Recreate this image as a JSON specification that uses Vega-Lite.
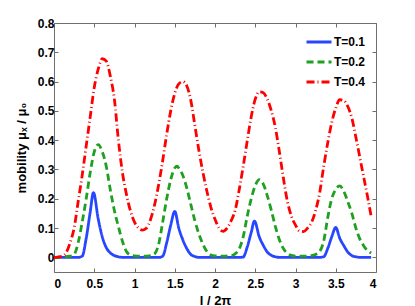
{
  "$schema": "https://vega.github.io/schema/vega-lite/v6.json",
  "width": 322,
  "height": 249,
  "autosize": "none",
  "padding": {"left": 54, "top": 23, "right": 39, "bottom": 34},
  "config": {
    "font": "Liberation Sans",
    "view": {"stroke": "#6e6e6e", "strokeWidth": 1},
    "axis": {
      "grid": false,
      "domain": false,
      "tickColor": "#6e6e6e",
      "tickSize": -4,
      "labelFont": "Liberation Sans",
      "labelFontWeight": "bold",
      "labelFontSize": 12,
      "labelColor": "#000000",
      "titleFont": "Liberation Sans",
      "titleFontWeight": "bold",
      "titleFontSize": 13,
      "titleColor": "#000000"
    },
    "legend": {
      "labelFont": "Liberation Sans",
      "labelFontWeight": "bold",
      "labelFontSize": 12,
      "labelColor": "#000000"
    }
  },
  "data": {
    "values": [
      {"x": 0, "y": 0, "T": "T=0.1"},
      {"x": 0.3, "y": 0, "T": "T=0.1"},
      {"x": 0.35, "y": 0.004, "T": "T=0.1"},
      {"x": 0.4, "y": 0.065, "T": "T=0.1"},
      {"x": 0.45, "y": 0.155, "T": "T=0.1"},
      {"x": 0.49, "y": 0.221, "T": "T=0.1"},
      {"x": 0.55, "y": 0.13, "T": "T=0.1"},
      {"x": 0.6, "y": 0.07, "T": "T=0.1"},
      {"x": 0.65, "y": 0.033, "T": "T=0.1"},
      {"x": 0.7, "y": 0.015, "T": "T=0.1"},
      {"x": 0.75, "y": 0.006, "T": "T=0.1"},
      {"x": 0.8, "y": 0.002, "T": "T=0.1"},
      {"x": 0.85, "y": 0, "T": "T=0.1"},
      {"x": 1.3, "y": 0, "T": "T=0.1"},
      {"x": 1.35, "y": 0.004, "T": "T=0.1"},
      {"x": 1.4, "y": 0.05, "T": "T=0.1"},
      {"x": 1.45, "y": 0.11, "T": "T=0.1"},
      {"x": 1.5, "y": 0.157, "T": "T=0.1"},
      {"x": 1.55, "y": 0.1, "T": "T=0.1"},
      {"x": 1.6, "y": 0.06, "T": "T=0.1"},
      {"x": 1.65, "y": 0.03, "T": "T=0.1"},
      {"x": 1.7, "y": 0.01, "T": "T=0.1"},
      {"x": 1.75, "y": 0.003, "T": "T=0.1"},
      {"x": 1.8, "y": 0, "T": "T=0.1"},
      {"x": 2.3, "y": 0, "T": "T=0.1"},
      {"x": 2.35, "y": 0.001, "T": "T=0.1"},
      {"x": 2.4, "y": 0.035, "T": "T=0.1"},
      {"x": 2.45, "y": 0.085, "T": "T=0.1"},
      {"x": 2.49, "y": 0.124, "T": "T=0.1"},
      {"x": 2.55, "y": 0.07, "T": "T=0.1"},
      {"x": 2.6, "y": 0.041, "T": "T=0.1"},
      {"x": 2.65, "y": 0.018, "T": "T=0.1"},
      {"x": 2.7, "y": 0.007, "T": "T=0.1"},
      {"x": 2.75, "y": 0.002, "T": "T=0.1"},
      {"x": 2.8, "y": 0, "T": "T=0.1"},
      {"x": 3.3, "y": 0, "T": "T=0.1"},
      {"x": 3.35, "y": 0.002, "T": "T=0.1"},
      {"x": 3.4, "y": 0.03, "T": "T=0.1"},
      {"x": 3.45, "y": 0.07, "T": "T=0.1"},
      {"x": 3.5, "y": 0.102, "T": "T=0.1"},
      {"x": 3.55, "y": 0.065, "T": "T=0.1"},
      {"x": 3.6, "y": 0.04, "T": "T=0.1"},
      {"x": 3.65, "y": 0.018, "T": "T=0.1"},
      {"x": 3.7, "y": 0.006, "T": "T=0.1"},
      {"x": 3.75, "y": 0.002, "T": "T=0.1"},
      {"x": 3.8, "y": 0, "T": "T=0.1"},
      {"x": 3.94, "y": 0, "T": "T=0.1"},

      {"x": 0, "y": 0, "T": "T=0.2"},
      {"x": 0.1, "y": 0.001, "T": "T=0.2"},
      {"x": 0.2, "y": 0.004, "T": "T=0.2"},
      {"x": 0.25, "y": 0.01, "T": "T=0.2"},
      {"x": 0.3, "y": 0.05, "T": "T=0.2"},
      {"x": 0.35, "y": 0.12, "T": "T=0.2"},
      {"x": 0.4, "y": 0.2, "T": "T=0.2"},
      {"x": 0.45, "y": 0.29, "T": "T=0.2"},
      {"x": 0.5, "y": 0.36, "T": "T=0.2"},
      {"x": 0.55, "y": 0.385, "T": "T=0.2"},
      {"x": 0.6, "y": 0.36, "T": "T=0.2"},
      {"x": 0.65, "y": 0.31, "T": "T=0.2"},
      {"x": 0.7, "y": 0.23, "T": "T=0.2"},
      {"x": 0.75, "y": 0.16, "T": "T=0.2"},
      {"x": 0.8, "y": 0.105, "T": "T=0.2"},
      {"x": 0.85, "y": 0.055, "T": "T=0.2"},
      {"x": 0.9, "y": 0.02, "T": "T=0.2"},
      {"x": 0.95, "y": 0.008, "T": "T=0.2"},
      {"x": 1.0, "y": 0.005, "T": "T=0.2"},
      {"x": 1.1, "y": 0.004, "T": "T=0.2"},
      {"x": 1.2, "y": 0.006, "T": "T=0.2"},
      {"x": 1.25, "y": 0.012, "T": "T=0.2"},
      {"x": 1.3, "y": 0.045, "T": "T=0.2"},
      {"x": 1.35, "y": 0.12, "T": "T=0.2"},
      {"x": 1.4, "y": 0.2, "T": "T=0.2"},
      {"x": 1.45, "y": 0.265, "T": "T=0.2"},
      {"x": 1.5, "y": 0.305, "T": "T=0.2"},
      {"x": 1.53, "y": 0.311, "T": "T=0.2"},
      {"x": 1.55, "y": 0.305, "T": "T=0.2"},
      {"x": 1.6, "y": 0.28, "T": "T=0.2"},
      {"x": 1.65, "y": 0.236, "T": "T=0.2"},
      {"x": 1.7, "y": 0.18, "T": "T=0.2"},
      {"x": 1.75, "y": 0.125, "T": "T=0.2"},
      {"x": 1.8, "y": 0.08, "T": "T=0.2"},
      {"x": 1.85, "y": 0.045, "T": "T=0.2"},
      {"x": 1.9, "y": 0.02, "T": "T=0.2"},
      {"x": 1.95, "y": 0.008, "T": "T=0.2"},
      {"x": 2.0, "y": 0.005, "T": "T=0.2"},
      {"x": 2.1, "y": 0.004, "T": "T=0.2"},
      {"x": 2.2, "y": 0.006, "T": "T=0.2"},
      {"x": 2.25, "y": 0.012, "T": "T=0.2"},
      {"x": 2.3, "y": 0.028, "T": "T=0.2"},
      {"x": 2.35, "y": 0.07, "T": "T=0.2"},
      {"x": 2.4, "y": 0.14, "T": "T=0.2"},
      {"x": 2.45, "y": 0.2, "T": "T=0.2"},
      {"x": 2.5, "y": 0.245, "T": "T=0.2"},
      {"x": 2.55, "y": 0.265, "T": "T=0.2"},
      {"x": 2.6, "y": 0.25, "T": "T=0.2"},
      {"x": 2.65, "y": 0.21, "T": "T=0.2"},
      {"x": 2.7, "y": 0.16, "T": "T=0.2"},
      {"x": 2.75, "y": 0.105, "T": "T=0.2"},
      {"x": 2.8, "y": 0.06, "T": "T=0.2"},
      {"x": 2.85, "y": 0.03, "T": "T=0.2"},
      {"x": 2.9, "y": 0.013, "T": "T=0.2"},
      {"x": 2.95, "y": 0.007, "T": "T=0.2"},
      {"x": 3.0, "y": 0.004, "T": "T=0.2"},
      {"x": 3.1, "y": 0.004, "T": "T=0.2"},
      {"x": 3.2, "y": 0.006, "T": "T=0.2"},
      {"x": 3.25, "y": 0.01, "T": "T=0.2"},
      {"x": 3.3, "y": 0.02, "T": "T=0.2"},
      {"x": 3.35, "y": 0.055, "T": "T=0.2"},
      {"x": 3.4, "y": 0.135, "T": "T=0.2"},
      {"x": 3.45, "y": 0.2, "T": "T=0.2"},
      {"x": 3.5, "y": 0.232, "T": "T=0.2"},
      {"x": 3.55, "y": 0.244, "T": "T=0.2"},
      {"x": 3.6, "y": 0.225, "T": "T=0.2"},
      {"x": 3.65, "y": 0.19, "T": "T=0.2"},
      {"x": 3.7, "y": 0.15, "T": "T=0.2"},
      {"x": 3.75, "y": 0.1, "T": "T=0.2"},
      {"x": 3.8, "y": 0.062, "T": "T=0.2"},
      {"x": 3.85, "y": 0.038, "T": "T=0.2"},
      {"x": 3.9, "y": 0.022, "T": "T=0.2"},
      {"x": 3.94, "y": 0.015, "T": "T=0.2"},

      {"x": 0, "y": 0, "T": "T=0.4"},
      {"x": 0.05, "y": 0.001, "T": "T=0.4"},
      {"x": 0.1, "y": 0.004, "T": "T=0.4"},
      {"x": 0.15, "y": 0.015, "T": "T=0.4"},
      {"x": 0.2, "y": 0.05, "T": "T=0.4"},
      {"x": 0.25, "y": 0.1, "T": "T=0.4"},
      {"x": 0.3, "y": 0.19, "T": "T=0.4"},
      {"x": 0.35, "y": 0.28, "T": "T=0.4"},
      {"x": 0.4, "y": 0.38, "T": "T=0.4"},
      {"x": 0.45, "y": 0.48, "T": "T=0.4"},
      {"x": 0.5, "y": 0.58, "T": "T=0.4"},
      {"x": 0.55, "y": 0.643, "T": "T=0.4"},
      {"x": 0.6, "y": 0.678, "T": "T=0.4"},
      {"x": 0.65, "y": 0.67, "T": "T=0.4"},
      {"x": 0.7, "y": 0.618, "T": "T=0.4"},
      {"x": 0.75, "y": 0.54, "T": "T=0.4"},
      {"x": 0.8, "y": 0.4, "T": "T=0.4"},
      {"x": 0.85, "y": 0.29, "T": "T=0.4"},
      {"x": 0.9, "y": 0.215, "T": "T=0.4"},
      {"x": 0.95, "y": 0.158, "T": "T=0.4"},
      {"x": 1.0, "y": 0.12, "T": "T=0.4"},
      {"x": 1.05, "y": 0.1, "T": "T=0.4"},
      {"x": 1.1, "y": 0.093, "T": "T=0.4"},
      {"x": 1.15, "y": 0.1, "T": "T=0.4"},
      {"x": 1.2, "y": 0.13, "T": "T=0.4"},
      {"x": 1.25, "y": 0.18, "T": "T=0.4"},
      {"x": 1.3, "y": 0.248, "T": "T=0.4"},
      {"x": 1.35, "y": 0.33, "T": "T=0.4"},
      {"x": 1.4, "y": 0.42, "T": "T=0.4"},
      {"x": 1.45, "y": 0.5, "T": "T=0.4"},
      {"x": 1.5, "y": 0.56, "T": "T=0.4"},
      {"x": 1.55, "y": 0.592, "T": "T=0.4"},
      {"x": 1.6, "y": 0.6, "T": "T=0.4"},
      {"x": 1.65, "y": 0.585, "T": "T=0.4"},
      {"x": 1.7, "y": 0.535, "T": "T=0.4"},
      {"x": 1.75, "y": 0.45, "T": "T=0.4"},
      {"x": 1.8, "y": 0.365, "T": "T=0.4"},
      {"x": 1.85, "y": 0.29, "T": "T=0.4"},
      {"x": 1.9, "y": 0.225, "T": "T=0.4"},
      {"x": 1.95, "y": 0.17, "T": "T=0.4"},
      {"x": 2.0, "y": 0.13, "T": "T=0.4"},
      {"x": 2.05, "y": 0.1, "T": "T=0.4"},
      {"x": 2.1, "y": 0.089, "T": "T=0.4"},
      {"x": 2.15, "y": 0.1, "T": "T=0.4"},
      {"x": 2.2, "y": 0.125, "T": "T=0.4"},
      {"x": 2.25, "y": 0.16, "T": "T=0.4"},
      {"x": 2.3, "y": 0.23, "T": "T=0.4"},
      {"x": 2.35, "y": 0.31, "T": "T=0.4"},
      {"x": 2.4, "y": 0.397, "T": "T=0.4"},
      {"x": 2.45, "y": 0.48, "T": "T=0.4"},
      {"x": 2.5, "y": 0.54, "T": "T=0.4"},
      {"x": 2.55, "y": 0.565, "T": "T=0.4"},
      {"x": 2.6, "y": 0.562, "T": "T=0.4"},
      {"x": 2.65, "y": 0.54, "T": "T=0.4"},
      {"x": 2.7, "y": 0.5, "T": "T=0.4"},
      {"x": 2.75, "y": 0.443, "T": "T=0.4"},
      {"x": 2.8, "y": 0.36, "T": "T=0.4"},
      {"x": 2.85, "y": 0.27, "T": "T=0.4"},
      {"x": 2.9, "y": 0.19, "T": "T=0.4"},
      {"x": 2.95, "y": 0.14, "T": "T=0.4"},
      {"x": 3.0, "y": 0.11, "T": "T=0.4"},
      {"x": 3.05, "y": 0.09, "T": "T=0.4"},
      {"x": 3.1, "y": 0.088, "T": "T=0.4"},
      {"x": 3.15, "y": 0.1, "T": "T=0.4"},
      {"x": 3.2, "y": 0.12, "T": "T=0.4"},
      {"x": 3.25, "y": 0.16, "T": "T=0.4"},
      {"x": 3.3, "y": 0.22, "T": "T=0.4"},
      {"x": 3.35, "y": 0.31, "T": "T=0.4"},
      {"x": 3.4, "y": 0.39, "T": "T=0.4"},
      {"x": 3.45, "y": 0.46, "T": "T=0.4"},
      {"x": 3.5, "y": 0.51, "T": "T=0.4"},
      {"x": 3.55, "y": 0.538, "T": "T=0.4"},
      {"x": 3.6, "y": 0.535, "T": "T=0.4"},
      {"x": 3.65, "y": 0.515, "T": "T=0.4"},
      {"x": 3.7, "y": 0.475, "T": "T=0.4"},
      {"x": 3.75, "y": 0.41, "T": "T=0.4"},
      {"x": 3.8, "y": 0.34, "T": "T=0.4"},
      {"x": 3.85, "y": 0.27, "T": "T=0.4"},
      {"x": 3.9, "y": 0.2, "T": "T=0.4"},
      {"x": 3.94, "y": 0.14, "T": "T=0.4"}
    ]
  },
  "layer": [
    {
      "mark": {"type": "line", "interpolate": "monotone", "strokeWidth": 2.8},
      "encoding": {
        "x": {
          "field": "x", "type": "quantitative",
          "scale": {"domain": [0, 4], "nice": false, "zero": false},
          "axis": {"orient": "bottom", "values": [0, 0.5, 1, 1.5, 2, 2.5, 3, 3.5, 4], "format": "~g", "title": "l / 2π", "labelPadding": 10, "titlePadding": 5}
        },
        "y": {
          "field": "y", "type": "quantitative",
          "scale": {"domain": [-0.05, 0.8], "nice": false, "zero": false},
          "axis": {"orient": "left", "values": [0, 0.1, 0.2, 0.3, 0.4, 0.5, 0.6, 0.7, 0.8], "format": "~g", "title": "mobility  μₓ / μ₀", "labelPadding": 4, "titlePadding": 9}
        },
        "color": {
          "field": "T", "type": "nominal", "title": null,
          "scale": {"domain": ["T=0.1", "T=0.2", "T=0.4"], "range": ["#2846ff", "#1fa01f", "#ff0000"]},
          "legend": {"orient": "none", "legendX": 251, "legendY": 5, "symbolType": "stroke", "symbolSize": 625, "symbolStrokeWidth": 3, "rowPadding": -4, "labelOffset": 1, "padding": 0}
        },
        "strokeDash": {
          "field": "T", "type": "nominal", "title": null,
          "scale": {"domain": ["T=0.1", "T=0.2", "T=0.4"], "range": [[1, 0], [7, 4], [8, 3, 1, 3]]},
          "legend": {"orient": "none", "legendX": 251, "legendY": 5, "symbolType": "stroke", "symbolSize": 625, "symbolStrokeWidth": 3, "rowPadding": -4, "labelOffset": 1, "padding": 0}
        }
      }
    },
    {
      "mark": {"type": "line", "opacity": 0},
      "encoding": {
        "x": {
          "field": "x", "type": "quantitative",
          "scale": {"domain": [0, 4], "nice": false, "zero": false},
          "axis": {"orient": "top", "values": [0, 0.5, 1, 1.5, 2, 2.5, 3, 3.5, 4], "labels": false, "title": null}
        },
        "y": {
          "field": "y", "type": "quantitative",
          "scale": {"domain": [-0.05, 0.8], "nice": false, "zero": false},
          "axis": {"orient": "right", "values": [0, 0.1, 0.2, 0.3, 0.4, 0.5, 0.6, 0.7, 0.8], "labels": false, "title": null}
        },
        "detail": {"field": "T"}
      }
    }
  ],
  "resolve": {"axis": {"x": "independent", "y": "independent"}}
}
